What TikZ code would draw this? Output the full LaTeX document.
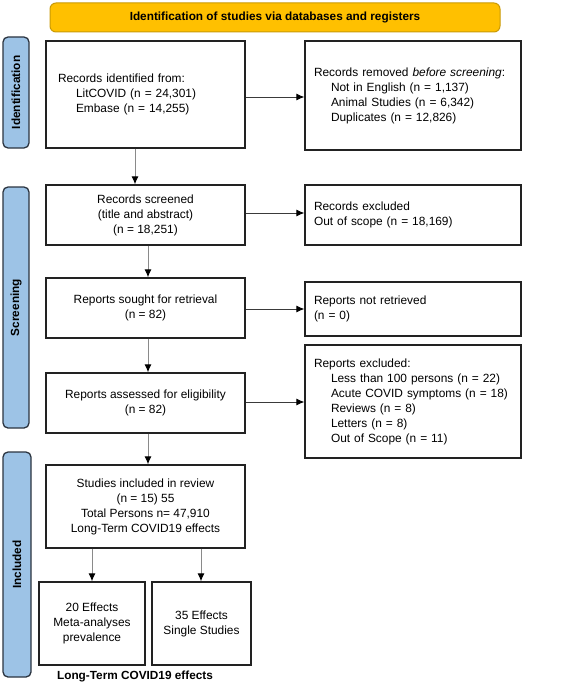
\documentclass[tikz,border=0pt]{standalone}
\usepackage{fontspec}
\setmainfont{Liberation Sans}
\usetikzlibrary{arrows.meta}
\definecolor{titlefill}{HTML}{FFC000}
\definecolor{titledraw}{HTML}{C99A06}
\definecolor{sidefill}{HTML}{9DC3E6}
\definecolor{sidedraw}{HTML}{2B3440}
\definecolor{boxdraw}{HTML}{222222}
\definecolor{vline}{HTML}{8A8A8A}
\definecolor{hline}{HTML}{3A3A3A}
\tikzset{
  box/.style={draw=boxdraw, line width=1.3pt, inner ysep=0pt, font=\fontsize{11.9}{15}\selectfont},
  cbox/.style={box, align=center},
  lbox/.style={box, align=left},
  side/.style={draw=sidedraw, fill=sidefill, line width=1.3pt, rounded corners=5pt, inner sep=0pt},
  sidetext/.style={rotate=90, font=\fontsize{11.8}{13}\selectfont\bfseries},
  varrow/.style={draw=vline, line width=1pt, -{Latex[length=8pt,width=7pt,color=black]}},
  harrow/.style={draw=hline, line width=0.9pt, -{Latex[length=8pt,width=7pt,color=black]}},
}
\begin{document}
\begin{tikzpicture}[x=1pt,y=-1pt]
\useasboundingbox (0,0) rectangle (576,685);
% title
\node[draw=titledraw, fill=titlefill, line width=1pt, rounded corners=6pt, minimum width=450pt, minimum height=29pt, inner sep=0pt, font=\fontsize{11.8}{13}\selectfont\bfseries] (title) at (275,17.5) {Identification of studies via databases and registers};
% side labels
\node[side, minimum width=26pt, minimum height=111pt] (sid) at (16,92.5) {};
\node[sidetext] (sidt) at (sid.center) {Identification};
\node[side, minimum width=26pt, minimum height=241pt] (sscr) at (16,307.5) {};
\node[sidetext] (sscrt) at (sscr.center) {Screening};
\node[side, minimum width=28pt, minimum height=225pt] (sinc) at (17,564.5) {};
\node[sidetext] (sinct) at (sinc.center) {Included};
% left column
\node[lbox, text width=175pt, inner xsep=12pt, minimum height=107pt] (rid) at (145.5,94.5) {Records identified from:\\\hspace*{18pt}LitCOVID (n = 24,301)\\\hspace*{18pt}Embase (n = 14,255)};
\node[cbox, minimum width=199pt, minimum height=60pt] (rscr) at (145.5,215) {Records screened\\(title and abstract)\\(n = 18,251)};
\node[cbox, minimum width=199pt, minimum height=60pt] (rsought) at (145.5,308) {Reports sought for retrieval\\(n = 82)};
\node[cbox, minimum width=199pt, minimum height=60pt] (rass) at (145.5,403) {Reports assessed for eligibility\\(n = 82)};
\node[cbox, minimum width=199pt, minimum height=83pt] (stud) at (145.5,506.5) {Studies included in review\\(n = 15) 55\\Total Persons n= 47,910\\Long-Term COVID19 effects};
\node[cbox, minimum width=106pt, minimum height=83pt] (meta) at (92,623.5) {20 Effects\\Meta-analyses\\prevalence};
\node[cbox, minimum width=99pt, minimum height=83pt] (single) at (201.5,623.5) {35 Effects\\Single Studies};
\node[font=\fontsize{11.8}{13}\selectfont\bfseries] (ltlabel) at (135,676) {Long-Term COVID19 effects};
% right column
\node[lbox, text width=198pt, inner xsep=9pt, minimum height=109pt] (rrem) at (413,95.5) {Records removed \textit{before screening}:\\\hspace*{17pt}Not in English (n = 1,137)\\\hspace*{17pt}Animal Studies (n = 6,342)\\\hspace*{17pt}Duplicates (n = 12,826)};
\node[lbox, text width=198pt, inner xsep=9pt, minimum height=60pt] (rexc) at (413,215) {Records excluded\\Out of scope (n = 18,169)};
\node[lbox, text width=198pt, inner xsep=9pt, minimum height=54pt] (rnot) at (413,309) {Reports not retrieved\\(n = 0)};
\node[lbox, text width=198pt, inner xsep=9pt, minimum height=113pt] (rexc2) at (413,401.5) {Reports excluded:\\\hspace*{17pt}Less than 100 persons (n = 22)\\\hspace*{17pt}Acute COVID symptoms (n = 18)\\\hspace*{17pt}Reviews (n = 8)\\\hspace*{17pt}Letters (n = 8)\\\hspace*{17pt}Out of Scope (n = 11)};
% arrows
\draw[harrow] (rid.east |- 0,97) -- (rrem.west |- 0,97);
\draw[harrow] (rscr.east |- 0,213) -- (rexc.west |- 0,213);
\draw[harrow] (rsought.east |- 0,309) -- (rnot.west |- 0,309);
\draw[harrow] (rass.east |- 0,402) -- (rexc2.west |- 0,402);
\draw[varrow] (rid.south -| 135,0) -- (rscr.north -| 135,0);
\draw[varrow] (rscr.south -| 148,0) -- (rsought.north -| 148,0);
\draw[varrow] (rsought.south -| 148,0) -- (rass.north -| 148,0);
\draw[varrow] (rass.south -| 148,0) -- (stud.north -| 148,0);
\draw[varrow] (stud.south -| 92,0) -- (meta.north -| 92,0);
\draw[varrow] (stud.south -| 201,0) -- (single.north -| 201,0);
\end{tikzpicture}
\end{document}
